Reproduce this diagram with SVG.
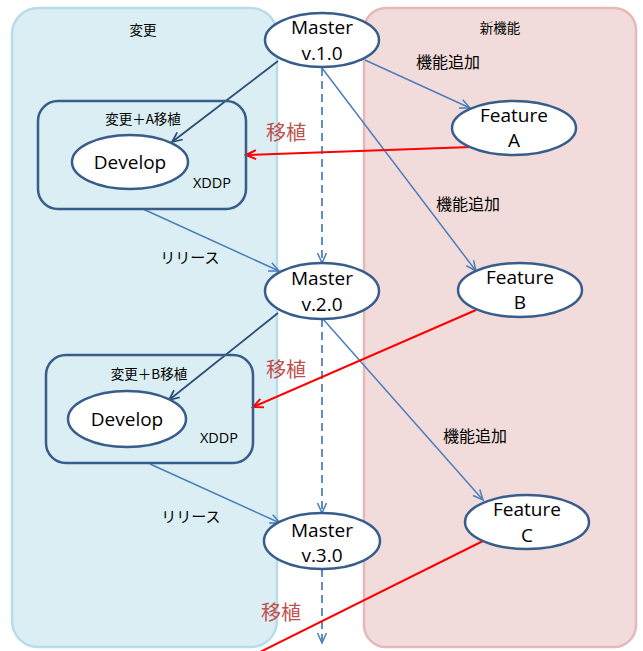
<svg xmlns="http://www.w3.org/2000/svg" width="643" height="651" viewBox="0 0 643 651">
  <style>
    .lane-l { fill: #DAEEF3; stroke: #B7DDE8; stroke-width: 2.5; }
    .lane-r { fill: #F2DCDB; stroke: #E6B9B8; stroke-width: 2.5; }
    .node { fill: #FFFFFF; stroke: #385D8A; stroke-width: 2.5; }
    .box { fill: none; stroke: #385D8A; stroke-width: 2.5; }
    .t { font-family: "Open Sans", "Noto Sans", "Noto Sans CJK JP", sans-serif; fill: #000; text-anchor: middle; }
    .big { font-size: 19px; }
    .jp { font-family: "Noto Sans CJK JP", sans-serif; fill: #000; }
    .small { font-size: 13.5px; }
    .xs { font-size: 14.5px; }
    .mid { font-size: 16px; }
    .rel { font-size: 15px; }
    .port { font-family: "Noto Sans CJK JP", sans-serif; font-size: 20px; fill: #C0504D; }
    .c-blue { fill: none; stroke: #4A7EBB; stroke-width: 1.5; }
    .c-dark { fill: none; stroke: #2C4D75; stroke-width: 1.75; }
    .c-red { fill: none; stroke: #FF0000; stroke-width: 2; }
    .c-dash { fill: none; stroke: #4A7EBB; stroke-width: 1.75; stroke-dasharray: 8 5; }
  </style>
  <defs>
    <marker id="ah-blue" markerUnits="userSpaceOnUse" markerWidth="14" markerHeight="14" refX="12" refY="7" orient="auto" viewBox="0 0 14 14">
      <path d="M2,2.5 L12,7 L2,11.5" fill="none" stroke="#4A7EBB" stroke-width="1.5"/>
    </marker>
    <marker id="ah-dark" markerUnits="userSpaceOnUse" markerWidth="14" markerHeight="14" refX="12" refY="7" orient="auto" viewBox="0 0 14 14">
      <path d="M2,2.5 L12,7 L2,11.5" fill="none" stroke="#2C4D75" stroke-width="1.75"/>
    </marker>
    <marker id="ah-red" markerUnits="userSpaceOnUse" markerWidth="14" markerHeight="14" refX="12" refY="7" orient="auto" viewBox="0 0 14 14">
      <path d="M2,2.5 L12,7 L2,11.5" fill="none" stroke="#FF0000" stroke-width="2"/>
    </marker>
  </defs>

  <!-- swimlanes -->
  <g id="lane-change">
    <rect class="lane-l" x="12" y="8" width="265" height="639" rx="26"/>
    <text class="jp small" x="143" y="35" text-anchor="middle">変更</text>
  </g>
  <g id="lane-feature">
    <rect class="lane-r" x="364" y="8" width="272" height="639" rx="22"/>
    <text class="jp small" x="500" y="33" text-anchor="middle">新機能</text>
  </g>

  <!-- connectors -->
  <g id="connectors">
    <line class="c-dash" x1="322" y1="68" x2="322" y2="263" marker-end="url(#ah-blue)"/>
    <line class="c-dash" x1="322" y1="319" x2="322" y2="513" marker-end="url(#ah-blue)"/>
    <line class="c-dash" x1="322" y1="569" x2="322" y2="643" marker-end="url(#ah-blue)"/>

    <line class="c-dark" x1="278" y1="61" x2="172" y2="142" marker-end="url(#ah-dark)"/>
    <line class="c-blue" x1="365" y1="60" x2="470" y2="108" marker-end="url(#ah-blue)"/>
    <line class="c-blue" x1="322" y1="68" x2="476" y2="271" marker-end="url(#ah-blue)"/>
    <line class="c-red" x1="471" y1="147" x2="246" y2="155" marker-end="url(#ah-red)"/>
    <line class="c-blue" x1="143" y1="209" x2="279" y2="271" marker-end="url(#ah-blue)"/>

    <line class="c-dark" x1="278" y1="313" x2="169" y2="400" marker-end="url(#ah-dark)"/>
    <line class="c-blue" x1="323" y1="319" x2="483" y2="500" marker-end="url(#ah-blue)"/>
    <line class="c-red" x1="476" y1="310" x2="253" y2="407" marker-end="url(#ah-red)"/>
    <line class="c-blue" x1="150" y1="464" x2="280" y2="523" marker-end="url(#ah-blue)"/>

    <line class="c-red" x1="485" y1="540" x2="240" y2="662"/>

    <text class="jp mid" x="448" y="68" text-anchor="middle">機能追加</text>
    <text class="jp mid" x="468" y="210" text-anchor="middle">機能追加</text>
    <text class="jp mid" x="475" y="442" text-anchor="middle">機能追加</text>
    <text class="jp rel" x="190" y="263" text-anchor="middle">リリース</text>
    <text class="jp rel" x="191" y="522" text-anchor="middle">リリース</text>
    <text class="port" x="286" y="140" text-anchor="middle">移植</text>
    <text class="port" x="286" y="377" text-anchor="middle">移植</text>
    <text class="port" x="281" y="620" text-anchor="middle">移植</text>
  </g>

  <!-- nodes -->
  <g id="master-v1">
    <ellipse class="node" cx="322" cy="40" rx="57" ry="27"/>
    <text class="t big" x="322" y="34">Master</text>
    <text class="t big" x="322" y="60">v.1.0</text>
  </g>
  <g id="master-v2">
    <ellipse class="node" cx="322" cy="291" rx="57" ry="28"/>
    <text class="t big" x="322" y="285">Master</text>
    <text class="t big" x="322" y="311">v.2.0</text>
  </g>
  <g id="master-v3">
    <ellipse class="node" cx="322" cy="541" rx="58" ry="28"/>
    <text class="t big" x="322" y="537">Master</text>
    <text class="t big" x="322" y="562">v.3.0</text>
  </g>

  <g id="feature-a">
    <ellipse class="node" cx="514" cy="128" rx="62" ry="27"/>
    <text class="t big" x="514" y="122">Feature</text>
    <text class="t big" x="514" y="147">A</text>
  </g>
  <g id="feature-b">
    <ellipse class="node" cx="520" cy="290" rx="62" ry="27"/>
    <text class="t big" x="520" y="284">Feature</text>
    <text class="t big" x="520" y="309">B</text>
  </g>
  <g id="feature-c">
    <ellipse class="node" cx="527" cy="522" rx="62" ry="27"/>
    <text class="t big" x="527" y="516">Feature</text>
    <text class="t big" x="527" y="542">C</text>
  </g>

  <g id="xddp-a">
    <rect class="box" x="38" y="101" width="208" height="108" rx="20"/>
    <text class="jp small" x="143" y="124" text-anchor="middle">変更＋A移植</text>
    <ellipse class="node" cx="130" cy="162" rx="58" ry="27"/>
    <text class="t big" x="130" y="169">Develop</text>
    <text class="t xs" x="212" y="188">XDDP</text>
  </g>
  <g id="xddp-b">
    <rect class="box" x="46" y="355" width="207" height="108" rx="20"/>
    <text class="jp small" x="149" y="379" text-anchor="middle">変更＋B移植</text>
    <ellipse class="node" cx="127" cy="419" rx="59" ry="28"/>
    <text class="t big" x="127" y="426">Develop</text>
    <text class="t xs" x="219" y="443">XDDP</text>
  </g>
</svg>
